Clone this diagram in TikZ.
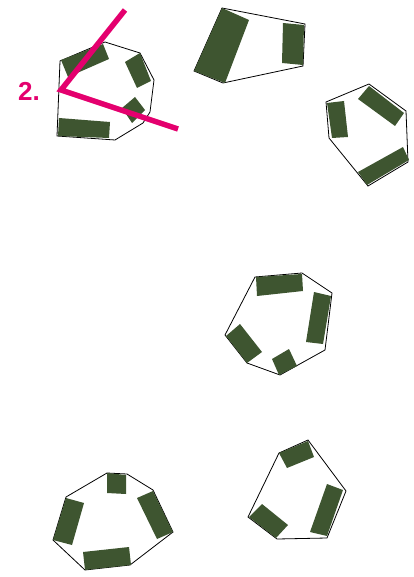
\documentclass[tikz,border=0pt]{standalone}
\usepackage{fontspec}
\setmainfont{Liberation Sans}
\definecolor{blockgreen}{RGB}{62,85,48}
\definecolor{markpink}{RGB}{228,0,110}
\tikzset{
  outline/.style={draw=black, line width=0.8pt, line join=miter},
  block/.style={fill=blockgreen, draw=none},
  pinkline/.style={draw=markpink, line width=5.5pt, line join=miter},
}
\begin{document}
\begin{tikzpicture}[x=1pt,y=-1pt]
\useasboundingbox (0,0) rectangle (414,577);
% polygon 1
\draw[outline] (60,61) -- (105,42) -- (140,53) -- (154,80) -- (150,112) -- (143,123) -- (115,140) -- (57,136) -- cycle;
\fill[block] (61,60) -- (103,44) -- (109,59) -- (68,77) -- cycle;
\fill[block] (125,62) -- (140,53) -- (151,81) -- (137,88) -- cycle;
\fill[block] (122,108) -- (135,97) -- (145,110) -- (132,123) -- cycle;
\fill[block] (59,118) -- (110,122) -- (109,138) -- (58,136) -- cycle;
% pink marks
\draw[pinkline] (125,10) -- (61,90) -- (178,129);
\node[text=markpink, font=\bfseries\fontsize{26}{26}\selectfont, inner sep=0pt] (label2) at (29,91) {2.};
% polygon 2
\draw[outline] (222,8) -- (305,24) -- (303,66) -- (223,83) -- (194,71) -- cycle;
\fill[block] (222,8) -- (249,20) -- (225,83) -- (194,71) -- cycle;
\fill[block] (283,23) -- (304,25) -- (303,65) -- (282,63) -- cycle;
% polygon 3
\draw[outline] (326,102) -- (369,84) -- (406,111) -- (408,162) -- (368,186) -- (329,138) -- cycle;
\fill[block] (327,103) -- (344,101) -- (348,137) -- (332,138) -- cycle;
\fill[block] (358,99) -- (369,86) -- (404,113) -- (395,126) -- cycle;
\fill[block] (358,172) -- (403,147) -- (409,160) -- (367,185) -- cycle;
% polygon 4
\draw[outline] (255,277) -- (302,273) -- (332,293) -- (325,350) -- (280,375) -- (247,363) -- (225,335) -- cycle;
\fill[block] (256,277) -- (302,274) -- (303,291) -- (257,296) -- cycle;
\fill[block] (314,292) -- (331,296) -- (323,344) -- (306,342) -- cycle;
\fill[block] (226,336) -- (240,324) -- (262,352) -- (247,363) -- cycle;
\fill[block] (272,359) -- (289,349) -- (297,366) -- (279,375) -- cycle;
% polygon 5
\draw[outline] (107,473) -- (127,474) -- (153,490) -- (173,532) -- (130,565) -- (85,570) -- (53,540) -- (66,497) -- cycle;
\fill[block] (107,473) -- (126,475) -- (126,494) -- (107,493) -- cycle;
\fill[block] (66,498) -- (84,503) -- (72,545) -- (53,540) -- cycle;
\fill[block] (137,498) -- (153,491) -- (173,532) -- (157,539) -- cycle;
\fill[block] (83,552) -- (129,547) -- (131,565) -- (85,570) -- cycle;
% polygon 6
\draw[outline] (279,453) -- (308,440) -- (346,491) -- (327,538) -- (277,539) -- (248,517) -- cycle;
\fill[block] (279,453) -- (308,441) -- (314,457) -- (287,468) -- cycle;
\fill[block] (327,484) -- (343,490) -- (327,536) -- (310,532) -- cycle;
\fill[block] (249,517) -- (262,504) -- (288,525) -- (276,538) -- cycle;
\end{tikzpicture}
\end{document}
